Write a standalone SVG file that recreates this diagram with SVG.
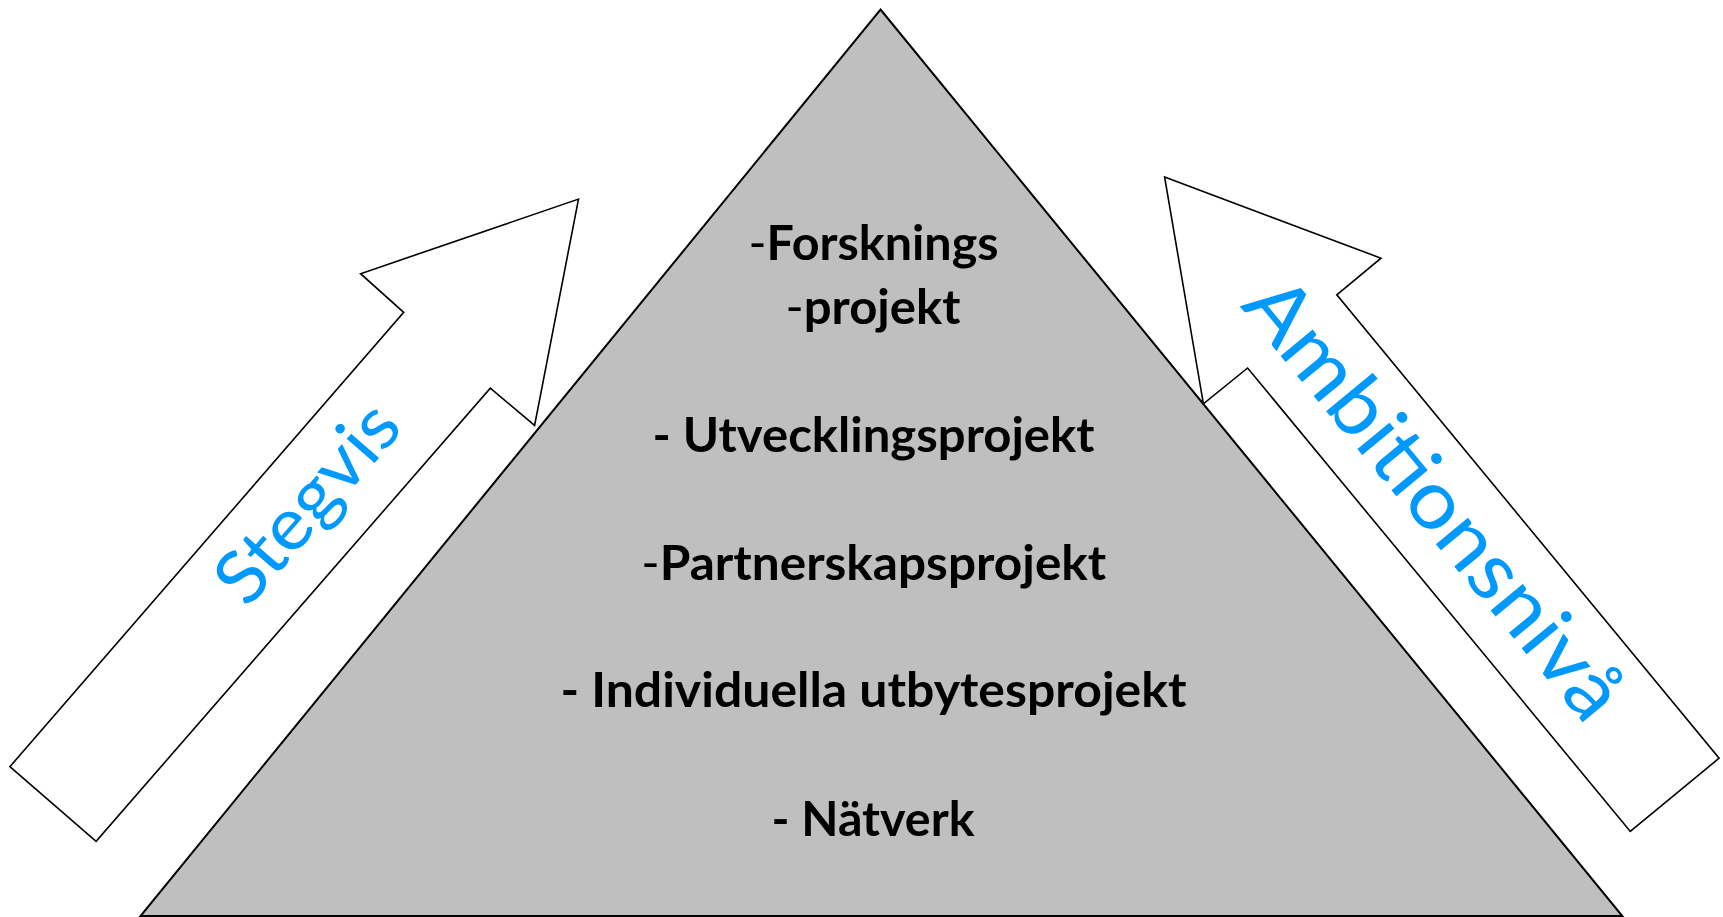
<svg xmlns="http://www.w3.org/2000/svg" width="1723" height="917" viewBox="0 0 1723 917">
<style>
.tri{fill:#BFBFBF;stroke:#000;stroke-width:2;stroke-linejoin:miter}
.arr{fill:#FFFFFF;stroke:#000;stroke-width:1.6;stroke-linejoin:miter}
.lbl{font-family:Lato,"Liberation Sans",sans-serif;font-weight:bold;font-size:48px;fill:#000;text-anchor:middle}
.thin{font-weight:normal}
.blue{font-family:Lato,"Liberation Sans",sans-serif;fill:#0099FF}
</style>
<rect width="1723" height="917" fill="#FFFFFF"/>
<g id="pyramid">
<polygon class="tri" points="880.5,9.5 1622.3,916 140.5,916"/>
</g>
<g id="connectors">
<g id="arrow-stegvis">
<polygon class="arr" points="578.5,199.1 534.6,425.4 490.3,388.2 96.1,841.3 9.9,766.7 403.7,312.3 360.6,273.7"/>
<text class="blue" font-size="73" x="326" y="519" text-anchor="middle" textLength="240" lengthAdjust="spacingAndGlyphs" transform="rotate(-49 326 519)">Stegvis</text>
</g>
<g id="arrow-ambition">
<polygon class="arr" points="1164.6,177 1381,258.2 1336.8,294.8 1719.1,758.2 1630.3,831.4 1247.6,368 1203.4,403.8"/>
<text class="blue" font-size="82" x="1239.5" y="306" textLength="545" lengthAdjust="spacingAndGlyphs" transform="rotate(50.5 1239.5 306)">Ambitionsnivå</text>
</g>
</g>
<g id="item-forskning">
<text class="lbl" x="873.5" y="260" textLength="250" lengthAdjust="spacingAndGlyphs"><tspan class="thin">-</tspan>Forsknings</text>
<text class="lbl" x="873" y="324" textLength="175" lengthAdjust="spacingAndGlyphs"><tspan class="thin">-</tspan>projekt</text>
</g>
<g id="item-utveckling">
<text class="lbl" x="873.5" y="452" textLength="442" lengthAdjust="spacingAndGlyphs">- Utvecklingsprojekt</text>
</g>
<g id="item-partnerskap">
<text class="lbl" x="873.8" y="580" textLength="465" lengthAdjust="spacingAndGlyphs"><tspan class="thin">-</tspan>Partnerskapsprojekt</text>
</g>
<g id="item-individuella">
<text class="lbl" x="873.5" y="707" textLength="626" lengthAdjust="spacingAndGlyphs">- Individuella utbytesprojekt</text>
</g>
<g id="item-natverk">
<text class="lbl" x="873" y="835.5" textLength="203" lengthAdjust="spacingAndGlyphs">- Nätverk</text>
</g>
</svg>
